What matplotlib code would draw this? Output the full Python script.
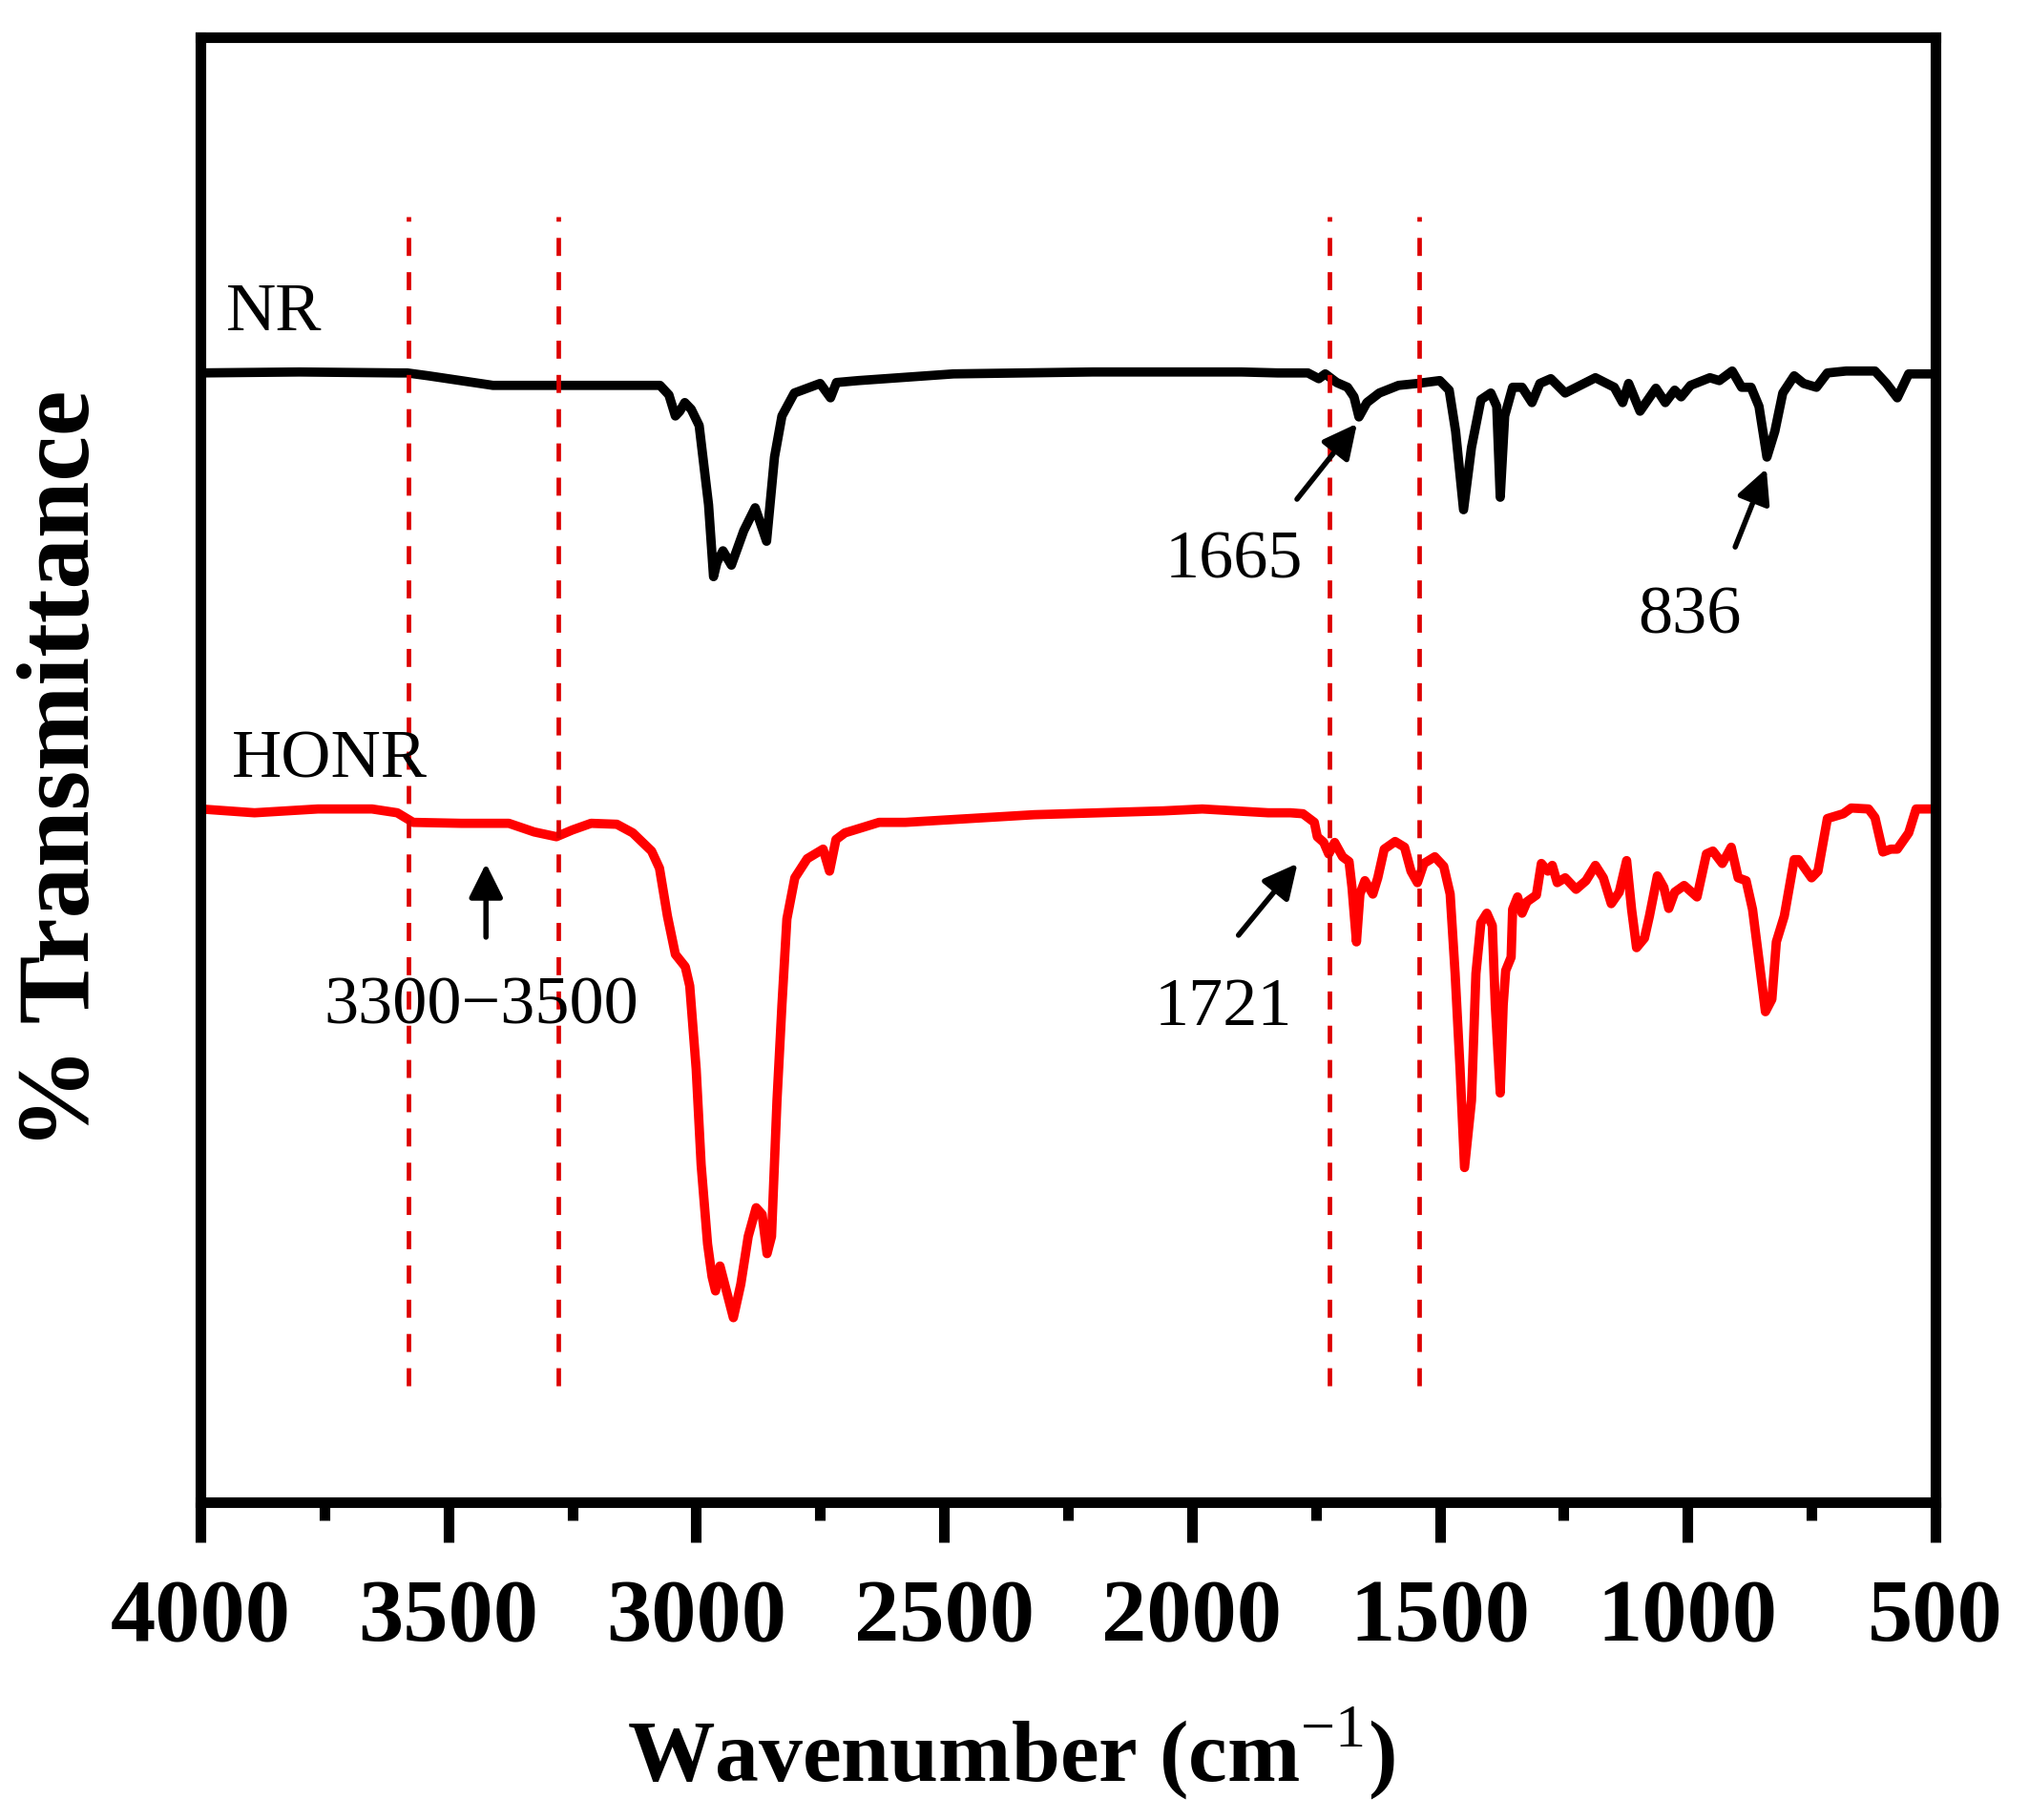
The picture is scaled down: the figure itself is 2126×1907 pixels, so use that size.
import numpy as np
import matplotlib
matplotlib.use("Agg")
import matplotlib.pyplot as plt
from matplotlib.ticker import MultipleLocator

# FTIR spectra (wavenumber in cm-1, offset transmittance in a.u.)
nr_wn = [4000, 3800, 3600, 3583, 3540, 3475, 3410, 3300, 3200, 3073, 3055, 3042, 3033,
         3023, 3010, 2994, 2975, 2965, 2958, 2946, 2929, 2904, 2881, 2858, 2842, 2827,
         2802, 2750, 2729, 2717, 2673, 2481, 2200, 1900, 1827, 1766, 1744, 1731, 1708,
         1686, 1673, 1663, 1647, 1622, 1583, 1545, 1500, 1481, 1468, 1452, 1436, 1417,
         1397, 1385, 1378, 1369, 1353, 1334, 1314, 1298, 1276, 1247, 1186, 1148, 1131,
         1119, 1096, 1064, 1045, 1026, 1013, 994, 955, 936, 910, 891, 872, 856, 840,
         824, 808, 785, 766, 740, 718, 680, 622, 599, 577, 554, 519, 500]
nr_t = [118.1, 118.2, 118.1, 118.1, 117.8, 117.3, 116.8, 116.8, 116.8, 116.8, 115.8, 113.6, 114.1,
        115.0, 114.3, 112.6, 104.3, 96.8, 98.3, 99.5, 98.0, 101.6, 104.0, 100.5, 109.3, 113.6,
        116.0, 117.0, 115.5, 117.1, 117.3, 118.0, 118.2, 118.2, 118.1, 118.1, 117.5, 118.0, 117.1,
        116.6, 115.6, 113.5, 115.0, 116.0, 116.8, 117.0, 117.3, 116.3, 112.0, 103.8, 110.3, 115.3,
        116.0, 114.6, 105.1, 113.6, 116.6, 116.6, 115.0, 117.0, 117.5, 116.0, 117.6, 116.6, 115.0,
        117.0, 114.1, 116.5, 115.0, 116.3, 115.6, 116.8, 117.6, 117.3, 118.3, 116.6, 116.6, 114.6, 109.3,
        112.0, 116.0, 117.8, 117.0, 116.6, 118.1, 118.3, 118.3, 117.0, 115.5, 118.0, 118.0, 118.0]

honr_wn = [4000, 3891, 3763, 3654, 3603, 3571, 3474, 3378, 3327, 3282, 3250, 3212, 3160,
           3128, 3090, 3074, 3058, 3042, 3022, 3013, 3000, 2990, 2977, 2968, 2961, 2952,
           2940, 2925, 2910, 2895, 2879, 2867, 2857, 2848, 2837, 2827, 2817, 2801, 2776,
           2744, 2731, 2718, 2700, 2631, 2578, 2318, 2057, 1979, 1846, 1801, 1776, 1753,
           1747, 1734, 1724, 1712, 1696, 1683, 1677, 1668, 1661, 1651, 1635, 1625, 1612,
           1590, 1571, 1558, 1545, 1532, 1510, 1492, 1479, 1469, 1459, 1450, 1436, 1427,
           1417, 1405, 1394, 1388, 1378, 1372, 1367, 1356, 1353, 1343, 1334, 1324, 1305,
           1295, 1282, 1273, 1263, 1247, 1225, 1205, 1186, 1170, 1154, 1138, 1123, 1113,
           1103, 1087, 1077, 1061, 1048, 1038, 1026, 1007, 981, 962, 949, 930, 912, 898,
           882, 869, 856, 843, 830, 821, 805, 785, 776, 750, 737, 718, 686, 670, 635, 622,
           606, 590, 577, 554, 539, 513, 500]
honr_t = [72.5, 72.1, 72.5, 72.5, 72.1, 71.1, 71.0, 71.0, 70.1, 69.6, 70.3, 71.0, 70.9,
          70.0, 68.1, 66.3, 61.3, 57.3, 56.0, 54.0, 45.3, 35.3, 27.0, 23.6, 22.1, 24.7,
          22.3, 19.3, 22.8, 27.8, 30.8, 30.1, 26.0, 27.8, 42.0, 52.0, 61.0, 65.3, 67.3,
          68.3, 66.0, 69.3, 70.0, 71.1, 71.1, 71.9, 72.3, 72.5, 72.1, 72.1, 72.0, 71.1,
          69.6, 69.0, 67.8, 69.0, 67.5, 67.0, 64.3, 58.6, 63.6, 65.0, 63.6, 65.3, 68.3,
          69.1, 68.5, 66.0, 64.8, 66.8, 67.5, 66.5, 63.6, 55.3, 45.3, 35.0, 42.0, 55.3,
          60.6, 61.6, 60.3, 52.0, 42.8, 52.0, 55.6, 57.0, 62.0, 63.3, 61.6, 62.8, 63.5,
          66.8, 66.0, 66.6, 64.8, 65.3, 64.1, 65.0, 66.6, 65.3, 62.6, 63.8, 67.1, 62.0,
          58.0, 59.0, 61.3, 65.5, 64.3, 62.1, 63.8, 64.5, 63.3, 67.8, 68.1, 66.8, 68.5, 65.3,
          65.0, 62.0, 56.7, 51.3, 52.6, 58.6, 61.3, 67.2, 67.2, 65.3, 66.0, 71.5, 72.0, 72.6, 72.5, 71.6,
          68.0, 68.3, 68.3, 70.0, 72.5, 72.5, 72.5]

guide_wn = [3580, 3278, 1723, 1542]
guide_span = (12.2, 134.4)

# text labels: (text, wavenumber, y)
curve_labels = [("NR", 3948, 122.6), ("HONR", 3937, 75.8)]
peak_labels = [("1665", 1915, 96.7), ("836", 996, 90.9),
               ("3300\u22123500", 3433, 50.1), ("1721", 1937, 49.9)]
# arrows: (tail wn, tail y, tip wn, tip y)
arrows = [(1788, 104.9, 1667, 112.8), (904, 99.9, 841, 108.1),
          (3424, 59.1, 3424, 66.8), (1906, 59.3, 1787, 66.8)]

plt.rcParams['font.family'] = ['Liberation Serif', 'DejaVu Serif']
plt.rcParams['mathtext.fontset'] = 'custom'
plt.rcParams['mathtext.rm'] = 'Liberation Serif'
plt.rcParams['mathtext.bf'] = 'Liberation Serif:bold'

fig = plt.figure(figsize=(10.63, 9.535), dpi=200)
ax = fig.add_axes([0.0988, 0.1746, 0.8551, 0.8049])

ax.plot(nr_wn, nr_t, color='black', lw=3.5, solid_joinstyle='round')
ax.plot(honr_wn, honr_t, color='#FF0000', lw=3.5, solid_joinstyle='round')

for w in guide_wn:
    ax.plot([w, w], guide_span, color='#DD0000', lw=1.7, dashes=(4, 3.6))

for txt, x, y in curve_labels:
    ax.text(x, y, txt, fontsize=26, ha='left', va='baseline')
for txt, x, y in peak_labels:
    ax.text(x, y, txt, fontsize=26, ha='center', va='baseline')
for x0, y0, x1, y1 in arrows:
    ax.annotate('', xy=(x1, y1), xytext=(x0, y0),
                arrowprops=dict(arrowstyle='-|>', color='black', lw=2,
                                mutation_scale=27, shrinkA=0, shrinkB=0))

ax.set_xlim(4000, 500)
ax.set_ylim(0, 153.2)
ax.xaxis.set_major_locator(MultipleLocator(500))
ax.xaxis.set_minor_locator(MultipleLocator(250))
ax.tick_params(axis='x', which='major', direction='out', length=15, width=4, pad=14,
               labelsize=34)
ax.tick_params(axis='x', which='minor', direction='out', length=7, width=4)
ax.tick_params(axis='y', left=False, labelleft=False)
for lab in ax.get_xticklabels():
    lab.set_fontweight('bold')
for sp in ax.spines.values():
    sp.set_linewidth(4)

ax.set_xlabel(r'Wavenumber (cm$^{\mathrm{-1}}$)', fontsize=33, fontweight='bold')
ax.xaxis.set_label_coords(0.467, -0.139)
ax.set_ylabel('% Transmittance', fontsize=38.5, fontweight='bold', labelpad=34)

fig.savefig('out.png', dpi=200)
